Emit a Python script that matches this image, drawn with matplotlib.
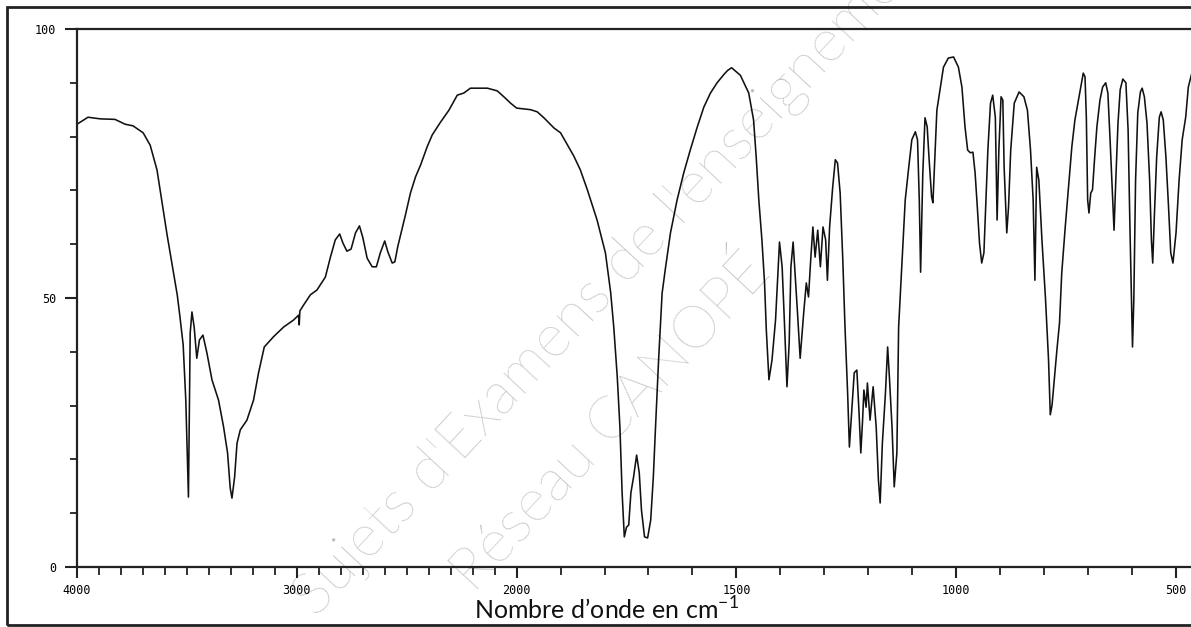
import matplotlib
matplotlib.use("Agg")
import matplotlib.pyplot as plt
from matplotlib.patches import Rectangle
from matplotlib.ticker import FixedLocator, FixedFormatter, NullFormatter
import numpy as np

W_PX = 1191
H_PX = 627
DPI = 100

# IR spectrum: wavenumber (cm-1) and transmittance (%)
wavenumber = [
    4000, 3950, 3895, 3827, 3781, 3745, 3699, 3667, 3636, 3613, 3590, 3567,
    3544, 3531, 3517, 3505, 3493, 3485, 3477, 3467, 3455, 3443, 3427, 3409,
    3386, 3356, 3333, 3315, 3303, 3295, 3283, 3272, 3257, 3227, 3197, 3174,
    3148, 3106, 3060, 3015, 2992, 2989, 2986, 2969, 2938, 2908, 2870, 2847,
    2825, 2805, 2790, 2772, 2753, 2733, 2715, 2700, 2680, 2657, 2638, 2620,
    2600, 2586, 2566, 2554, 2541, 2528, 2506, 2483, 2460, 2437, 2407, 2384,
    2346, 2308, 2270, 2240, 2210, 2133, 2088, 2058, 2027, 2000, 1968, 1953,
    1938, 1915, 1900, 1870, 1855, 1839, 1817, 1798, 1786, 1779, 1771, 1765,
    1760, 1755, 1750, 1745, 1740, 1734, 1727, 1721, 1716, 1709, 1702, 1695,
    1689, 1684, 1677, 1669, 1661, 1650, 1635, 1620, 1605, 1589, 1574, 1559,
    1544, 1529, 1520, 1511, 1491, 1472, 1461, 1455, 1449, 1442, 1436, 1432,
    1426, 1419, 1411, 1405, 1402, 1396, 1391, 1385, 1380, 1376, 1371, 1366,
    1361, 1355, 1347, 1341, 1336, 1331, 1326, 1321, 1315, 1309, 1303, 1297,
    1293, 1288, 1281, 1275, 1270, 1264, 1258, 1253, 1247, 1243, 1238, 1232,
    1226, 1221, 1217, 1213, 1210, 1205, 1202, 1196, 1189, 1182, 1177, 1173,
    1168, 1161, 1156, 1152, 1146, 1141, 1135, 1131, 1123, 1116, 1108, 1101,
    1093, 1088, 1084, 1081, 1076, 1071, 1066, 1062, 1056, 1053, 1048, 1044,
    1036, 1029, 1018, 1006, 995, 987, 980, 974, 968, 962, 957, 952,
    947, 942, 937, 933, 928, 922, 917, 911, 907, 903, 898, 894,
    891, 885, 881, 876, 868, 857, 846, 838, 831, 825, 821, 817,
    812, 805, 797, 790, 786, 782, 777, 771, 765, 760, 752, 745,
    737, 730, 722, 715, 711, 707, 704, 701, 698, 694, 690, 685,
    680, 673, 667, 660, 655, 650, 645, 641, 637, 632, 627, 621,
    614, 609, 605, 601, 599, 596, 592, 587, 581, 577, 572, 566,
    560, 556, 553, 549, 544, 538, 534, 529, 523, 517, 512, 507,
    500, 493, 486, 478, 472, 465,
]
transmittance = [
    82.3, 83.6, 83.3, 83.2, 82.3, 82.0, 80.7, 78.4, 73.8, 67.7, 61.7, 56.1,
    50.6, 46.3, 41.3, 31.0, 13.0, 43.5, 47.4, 44.6, 38.8, 42.2, 43.1, 39.8,
    34.8, 31.0, 26.0, 21.2, 14.7, 12.8, 16.7, 23.0, 25.5, 27.3, 31.0, 36.1,
    40.9, 42.8, 44.6, 45.9, 46.8, 45.0, 47.6, 48.7, 50.6, 51.5, 53.9, 57.6,
    60.8, 61.9, 60.2, 58.7, 59.1, 62.1, 63.4, 61.3, 57.4, 55.8, 55.8, 58.4,
    60.6, 58.6, 56.5, 56.7, 59.5, 61.7, 65.4, 69.5, 72.5, 74.7, 78.1, 80.3,
    82.7, 84.9, 87.7, 88.1, 89.0, 89.0, 88.5, 87.4, 86.2, 85.3, 85.0, 84.6,
    83.5, 81.6, 80.7, 76.4, 73.8, 70.1, 64.5, 58.4, 51.0, 44.6, 35.3, 26.0,
    13.8, 5.6, 7.4, 7.8, 13.8, 16.7, 20.8, 17.5, 10.6, 5.6, 5.4, 8.7,
    16.7, 26.0, 38.5, 50.9, 55.8, 62.1, 68.2, 73.2, 77.5, 81.8, 85.5, 88.1,
    90.0, 91.5, 92.3, 92.8, 91.4, 88.1, 83.1, 76.2, 68.2, 60.8, 52.8, 44.1,
    34.8, 38.5, 45.9, 55.8, 60.4, 55.8, 45.9, 33.5, 41.6, 55.8, 60.4, 53.9,
    47.2, 38.8, 47.2, 52.8, 50.2, 57.1, 63.2, 57.6, 62.6, 55.8, 63.2, 60.8,
    53.3, 63.2, 70.6, 75.7, 75.1, 69.5, 57.1, 44.6, 32.3, 22.3, 28.6, 36.1,
    36.6, 28.6, 21.2, 27.3, 32.9, 29.7, 34.2, 27.3, 33.5, 26.0, 16.2, 11.9,
    23.0, 32.3, 40.9, 35.3, 26.0, 14.9, 21.2, 44.6, 57.1, 68.2, 74.3, 79.4,
    80.9, 79.4, 68.2, 54.8, 73.2, 83.5, 81.8, 76.2, 68.8, 67.7, 77.5, 84.9,
    89.2, 92.9, 94.6, 94.8, 92.9, 89.2, 81.8, 77.5, 77.0, 77.1, 73.2, 66.9,
    60.2, 56.5, 58.4, 66.9, 77.5, 86.2, 87.7, 83.6, 64.5, 77.5, 87.4, 86.8,
    74.3, 62.1, 66.9, 77.5, 86.2, 88.3, 87.4, 84.9, 77.5, 68.2, 53.3, 74.3,
    71.9, 60.8, 50.0, 38.5, 28.3, 30.1, 34.8, 40.3, 45.4, 54.6, 63.2, 70.1,
    78.1, 83.1, 86.8, 90.0, 91.8, 91.1, 83.6, 68.2, 65.8, 69.5, 70.1, 76.2,
    81.8, 86.8, 89.2, 90.0, 88.1, 79.4, 70.1, 62.6, 71.9, 82.5, 88.7, 90.7,
    90.0, 81.2, 63.9, 48.3, 40.9, 49.6, 71.9, 84.4, 88.3, 89.0, 87.4, 82.5,
    71.9, 60.8, 56.5, 65.8, 76.2, 83.6, 84.6, 83.1, 76.2, 66.9, 58.4, 56.5,
    62.1, 71.9, 79.4, 83.6, 89.2, 91.5,
]

x_major = [4000, 3000, 2000, 1500, 1000, 500]
x_labels = ["4000", "3000", "2000", "1500", "1000", "500"]
x_minor = [w for w in range(600, 4000, 100) if w not in x_major]
y_major = [0, 50, 100]
y_labels = ["0", "50", "100"]
y_minor = [10, 20, 30, 40, 60, 70, 80, 90]


# the chart is drawn with half the scale above 2000 cm-1
def fwd(w):
    w = np.asarray(w, dtype=float)
    return np.where(w > 2000, 2000 + (w - 2000) / 2, w)


def inv(u):
    u = np.asarray(u, dtype=float)
    return np.where(u > 2000, 2000 + (u - 2000) * 2, u)


fig = plt.figure(figsize=(W_PX / DPI, H_PX / DPI), dpi=DPI)
fig.patch.set_facecolor("white")

# watermark (cut off at the top, as on the scan)
wm = dict(color="#bababa", fontsize=43, family="Lato", fontweight="light",
          rotation=47, rotation_mode="anchor", ha="left", va="baseline",
          zorder=-1)
fig.text(316 / W_PX, 1 - 618 / H_PX, "Sujets d'Examens de l'enseignement", **wm)
fig.text(474 / W_PX, 1 - 594 / H_PX, "Réseau CANOPÉ", **wm)

# outer frame of the scan
fig.patches.append(Rectangle((7 / W_PX, 2 / H_PX), 1.2, 618 / H_PX, fill=False,
                             lw=2, ec="#222222", transform=fig.transFigure,
                             clip_on=False))

ax = fig.add_axes([77 / W_PX, 1 - 567 / H_PX, 1121 / W_PX, 538 / H_PX])
ax.set_facecolor("none")
ax.set_xscale("function", functions=(fwd, inv))
ax.plot(wavenumber, transmittance, color="#111111", lw=1.15)
ax.set_xlim(4000, 450)
ax.set_ylim(0, 100)

ax.xaxis.set_major_locator(FixedLocator(x_major))
ax.xaxis.set_major_formatter(FixedFormatter(x_labels))
ax.xaxis.set_minor_locator(FixedLocator(x_minor))
ax.xaxis.set_minor_formatter(NullFormatter())
ax.yaxis.set_major_locator(FixedLocator(y_major))
ax.yaxis.set_major_formatter(FixedFormatter(y_labels))
ax.yaxis.set_minor_locator(FixedLocator(y_minor))
ax.yaxis.set_minor_formatter(NullFormatter())

ax.tick_params(axis="x", which="major", direction="out", length=8, width=1.5,
               pad=4, labelsize=8.5, color="#222222")
ax.tick_params(axis="x", which="minor", direction="out", length=6, width=1.3,
               color="#222222")
ax.tick_params(axis="y", which="major", direction="out", length=9, width=1.5,
               pad=6, labelsize=8.5, color="#222222")
ax.tick_params(axis="y", which="minor", direction="out", length=5, width=1.3,
               color="#222222")
for lab in ax.get_xticklabels() + ax.get_yticklabels():
    lab.set_family("DejaVu Sans Mono")

for side in ["left", "top", "bottom"]:
    ax.spines[side].set_linewidth(1.6)
    ax.spines[side].set_color("#222222")
ax.spines["right"].set_visible(False)

plt.rcParams["mathtext.fontset"] = "custom"
plt.rcParams["mathtext.rm"] = "Lato"
fig.text(606 / W_PX, 1 - 619.5 / H_PX, "Nombre d\u2019onde en cm$^{\\mathregular{-1}}$",
         ha="center", va="baseline", fontsize=18, family="Lato", color="#111111")

fig.savefig("out.png", dpi=DPI)
